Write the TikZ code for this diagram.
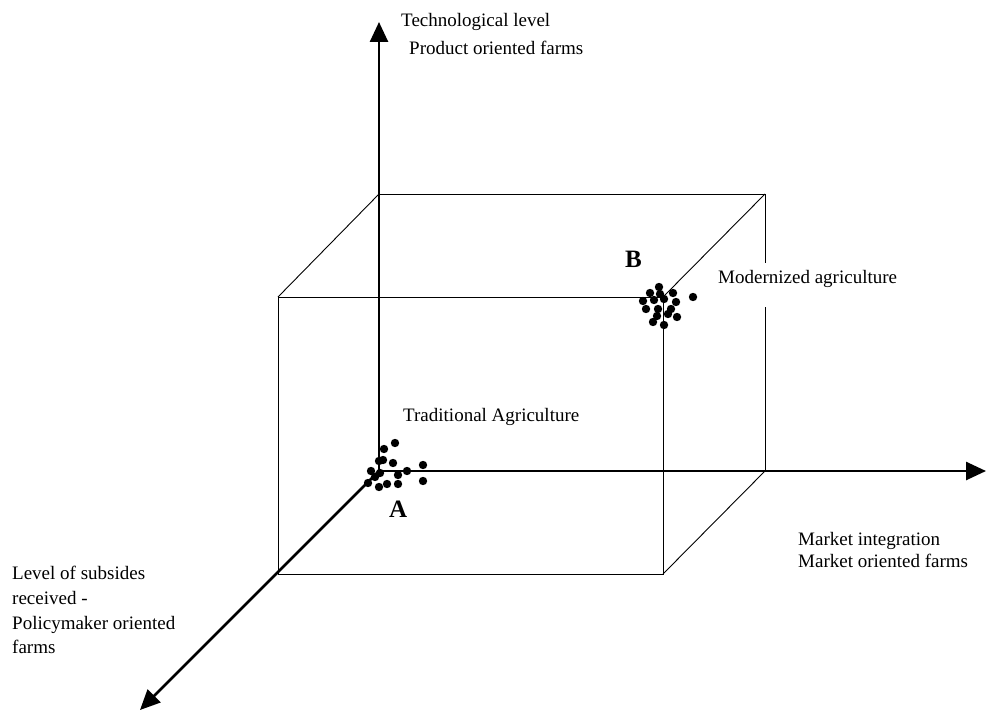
\documentclass[tikz,border=0pt]{standalone}
\usepackage{fontspec}
\setmainfont{Liberation Serif}
\usetikzlibrary{arrows.meta}
\begin{document}
\begin{tikzpicture}[x=1pt,y=-1pt,
  axis/.style={line width=2.6pt,-{Triangle[length=20pt,width=18pt]}},
  edge/.style={line width=0.9pt},
  lbl/.style={inner sep=0pt,anchor=base west,font=\fontsize{19}{22}\selectfont},
  big/.style={inner sep=0pt,anchor=base west,font=\fontsize{25}{30}\selectfont\bfseries}]
\useasboundingbox (0,0) rectangle (987,711);
% box corners
\coordinate (O) at (379,471);
\coordinate (BT) at (379,194);
\coordinate (BTR) at (765,194);
\coordinate (BR) at (765,471);
\coordinate (FTL) at (278,297);
\coordinate (FTR) at (663,297);
\coordinate (FBR) at (663,574);
\coordinate (FBL) at (278,574);
\coordinate (G1) at (765,263);
\coordinate (G2) at (765,307);
% axis ends
\coordinate (Ytip) at (379,22);
\coordinate (Xtip) at (986,471);
\coordinate (Ztip) at (140,710);
% box edges
\draw[edge] (BT) -- (BTR) -- (G1);
\draw[edge] (G2) -- (BR);
\draw[edge] (FTL) rectangle (FBR);
\draw[edge] (BT) -- (FTL);
\draw[edge] (BTR) -- (FTR);
\draw[edge] (BR) -- (FBR);
% axes
\draw[axis] (O) -- (Ytip);
\draw[axis] (O) -- (Xtip);
\draw[axis] (O) -- (Ztip);
% clusters
\foreach \x/\y in {395/443,384/449,379/461,383/460,393/463,371/471,407/471,423/465,423/481,398/475,380/473,387/484,379/487,368/483,398/484,375/477}
  \fill (\x,\y) circle (4.2);
\foreach \x/\y in {659/287,650/293,673/293,643/301,654/300,664/299,676/302,646/309,658/309,671/309,657/316,668/314,677/317,653/322,664/325,693/297,660/294}
  \fill (\x,\y) circle (4.2);
% labels
\node[lbl] (t1) at (401,27) {Technological level};
\node[lbl] (t2) at (409,55) {Product oriented farms};
\node[lbl] (trad) at (403,421) {Traditional Agriculture};
\node[lbl] (mod) at (718,283) {Modernized agriculture};
\node[lbl] (m1) at (798,545) {Market integration};
\node[lbl] (m2) at (798,567) {Market oriented farms};
\node[lbl] (l1) at (12,579) {Level of subsides};
\node[lbl] (l2) at (12,604) {received -};
\node[lbl] (l3) at (12,629) {Policymaker oriented};
\node[lbl] (l4) at (12,653) {farms};
\node[big] (A) at (389,517) {A};
\node[big] (B) at (625,268) {B};
\end{tikzpicture}
\end{document}
